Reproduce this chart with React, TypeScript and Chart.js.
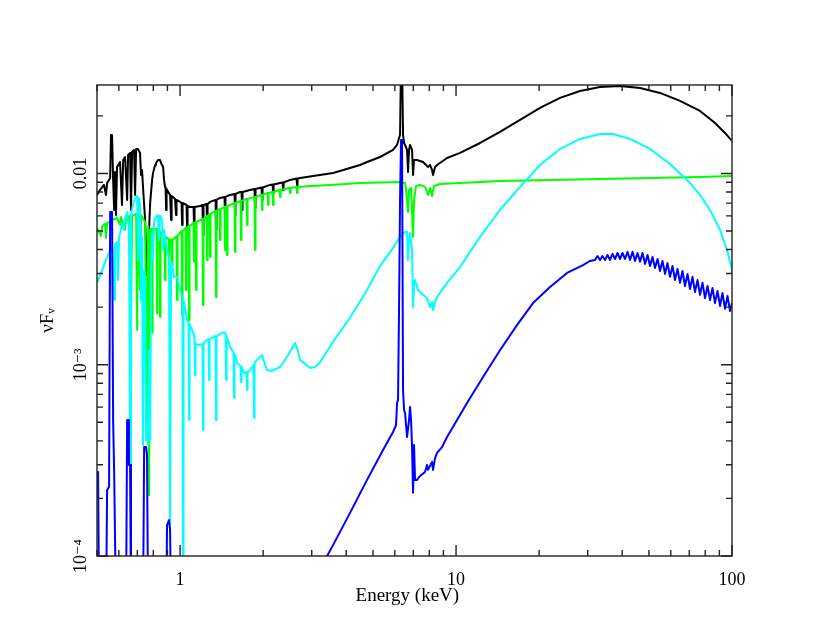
import React, { useEffect, useRef } from 'react';
import { Chart, registerables } from 'chart.js';

Chart.register(...registerables);

// ---- axis ranges and tick values ----
const X_MIN = 0.5;
const X_MAX = 100;
const Y_MIN = 1e-4;
const Y_MAX = 0.029;
const X_LABEL_TICKS = [1, 10, 100];
const Y_LABEL_TICKS = [1e-4, 1e-3, 1e-2];
const Y_LABEL_TEXT = ['10⁻⁴', '10⁻³', '0.01'];
const X_MINOR_TICKS = [0.5, 0.6, 0.7, 0.8, 0.9, 2, 3, 4, 5, 6, 7, 8, 9, 20, 30, 40, 50, 60, 70, 80, 90];
const Y_MINOR_TICKS = [2e-4, 3e-4, 4e-4, 5e-4, 6e-4, 7e-4, 8e-4, 9e-4, 2e-3, 3e-3, 4e-3, 5e-3, 6e-3, 7e-3, 8e-3, 9e-3, 2e-2];

// ---- series: [energy keV, nuFnu] ----
const totalModel: [number, number][] = [
  [0.500,0.00772],[0.513,0.00820],[0.530,0.00871],[0.539,0.00772],[0.544,0.00892],[0.558,0.00947],[0.562,0.0159],[0.567,0.0159],[0.572,0.00925],[0.577,0.00644],[0.581,0.01018],[0.586,0.00607],[0.591,0.01081],[0.606,0.01148],[0.616,0.00684],[0.622,0.01176],[0.632,0.01219],[0.643,0.00727],[0.648,0.01249],[0.659,0.0128],[0.664,0.00644],[0.670,0.01295],[0.681,0.01327],[0.687,0.00772],[0.693,0.01343],[0.704,0.01343],[0.716,0.0128],[0.722,0.00982],[0.728,0.01043],[0.734,0.0085],[0.747,0.00571],[0.759,0.00295],[0.766,0.00353],[0.772,0.00507],[0.779,0.00701],[0.792,0.00925],[0.798,0.01006],[0.812,0.01107],[0.818,0.01134],[0.832,0.01176],[0.846,0.01176],[0.853,0.01134],[0.868,0.01081],[0.875,0.00925],[0.882,0.0085],
  [0.8863,0.0084],[0.890,0.00644],[0.8937,0.0083],[0.897,0.0082],[0.920,0.00772],
  [0.9241,0.00772],[0.928,0.00571],[0.9319,0.00763],[0.959,0.00736],
  [0.963,0.00736],[0.967,0.00607],[0.971,0.00727],[1.000,0.0071],
  [1.0127,0.00701],[1.017,0.00538],[1.0213,0.00701],
  [1.0556,0.00684],[1.060,0.00519],[1.0644,0.00676],[1.087,0.00668],
  [1.1193,0.00668],[1.124,0.00519],[1.1287,0.00668],[1.181,0.00676],
  [1.206,0.00684],[1.211,0.00477],[1.216,0.00684],
  [1.2478,0.00692],[1.253,0.00538],[1.2582,0.00692],[1.284,0.0071],
  [1.3444,0.00727],[1.350,0.00507],[1.3556,0.00727],[1.396,0.00745],
  [1.4489,0.00754],[1.455,0.00607],[1.4611,0.00754],[1.518,0.00772],
  [1.5754,0.00781],[1.582,0.00607],[1.5886,0.00781],[1.650,0.008],
  [1.670,0.008],[1.677,0.00644],[1.684,0.008],[1.793,0.0082],
  [1.8612,0.0083],[1.869,0.0066],[1.8768,0.0083],
  [1.9737,0.00845],[1.982,0.00727],[1.9903,0.00845],[2.119,0.00871],
  [2.1639,0.00876],[2.173,0.00791],[2.1821,0.00876],[2.303,0.00892],
  [2.352,0.00897],[2.362,0.0082],[2.372,0.00897],[2.503,0.00925],
  [2.643,0.00942],[2.654,0.00871],[2.665,0.00942],[2.721,0.00947],
  [3.584,0.01006],[4.129,0.01068],[4.488,0.01107],[4.760,0.01148],[5.303,0.01219],[5.912,0.01327],[6.113,0.01409],[6.216,0.01533],[6.268,0.0159],[6.320,0.0393],[6.373,0.0393],[6.427,0.0159],[6.480,0.01443],[6.535,0.01409],[6.645,0.01327],[6.700,0.01018],[6.756,0.01327],[6.813,0.01409],[6.928,0.01327],[6.986,0.00982],[7.044,0.01176],[7.223,0.01176],[7.593,0.01148],[7.917,0.01081],[8.051,0.01107],[8.186,0.01043],[8.255,0.00982],[8.393,0.01081],[8.535,0.01107],[9.278,0.01205],[10.34,0.0128],[12.22,0.01443],[14.43,0.01648],[17.06,0.01904],[20.15,0.022],[23.82,0.02482],[28.13,0.027],[33.24,0.02833],[39.28,0.02868],[46.42,0.028],[54.84,0.02636],[64.80,0.02394],[76.58,0.02122],[86.79,0.01837],[94.33,0.01628],[100,0.01479]
];

const greenComponent: [number, number][] = [
  [0.500,0.00519],[0.517,0.00471],[0.522,0.00531],[0.535,0.00545],[0.539,0.0046],[0.544,0.00551],[0.558,0.00558],[0.577,0.00578],[0.591,0.00585],[0.606,0.00538],[0.611,0.00592],[0.632,0.00507],[0.637,0.00578],[0.659,0.006],[0.664,0.00171],[0.670,0.006],[0.693,0.00614],[0.699,0.00152],[0.704,0.00614],[0.716,0.00246],[0.722,0.00607],[0.747,0.00558],[0.759,0.000404],[0.766,0.00531],[0.772,0.000208],[0.779,0.00507],
  [0.789,0.00513],[0.792,0.00147],[0.795,0.00513],
  [0.822,0.00513],[0.825,0.00186],[0.828,0.00513],
  [0.8425,0.00494],[0.846,0.00178],[0.8495,0.00494],
  [0.8783,0.00466],[0.882,0.00277],[0.8857,0.00466],
  [0.9082,0.00454],[0.912,0.00302],[0.9158,0.00454],
  [0.9311,0.00449],[0.935,0.00332],[0.9389,0.00449],
  [0.9709,0.00471],[0.975,0.00218],[0.9791,0.00471],
  [1.0127,0.005],[1.017,0.00182],[1.0213,0.005],
  [1.0466,0.00519],[1.051,0.00246],[1.0554,0.00519],
  [1.0735,0.00531],[1.078,0.00171],[1.0825,0.00531],
  [1.1193,0.00551],[1.124,0.00345],[1.1287,0.00551],
  [1.1382,0.00558],[1.143,0.00246],[1.1478,0.00558],
  [1.206,0.00578],[1.211,0.00205],[1.216,0.00578],
  [1.2478,0.006],[1.253,0.00353],[1.2582,0.006],
  [1.2786,0.00614],[1.284,0.00366],[1.2894,0.00614],
  [1.3444,0.00637],[1.350,0.00226],[1.3556,0.00637],
  [1.3902,0.00652],[1.396,0.00449],[1.4018,0.00652],
  [1.4489,0.00668],[1.455,0.00398],[1.4611,0.00668],
  [1.4738,0.00676],[1.480,0.00375],[1.4862,0.00676],
  [1.5754,0.00701],[1.582,0.00389],[1.5886,0.00701],
  [1.656,0.00718],[1.663,0.00449],[1.670,0.00718],
  [1.7417,0.00736],[1.749,0.00538],[1.7563,0.00736],
  [1.8612,0.00754],[1.869,0.00398],[1.8768,0.00754],
  [1.9737,0.00772],[1.982,0.00644],[1.9903,0.00772],
  [2.0753,0.00791],[2.084,0.00684],[2.0927,0.00791],
  [2.1639,0.008],[2.173,0.00684],[2.1821,0.008],
  [2.2934,0.0082],[2.303,0.00754],[2.3126,0.0082],
  [2.4925,0.0084],[2.503,0.00791],[2.5135,0.0084],
  [2.6429,0.0085],[2.654,0.00791],[2.6651,0.0085],
  [2.983,0.0086],[3.495,0.00871],[4.488,0.00892],[6.268,0.00903],[6.535,0.00892],[6.590,0.0082],[6.700,0.00629],[6.756,0.0082],[6.871,0.0084],[6.986,0.00466],[7.044,0.00727],[7.163,0.0086],[7.406,0.00871],[7.721,0.0085],[7.917,0.00772],[8.051,0.0084],[8.186,0.00763],[8.323,0.0086],[8.750,0.00881],[10.34,0.00892],[14.43,0.00914],[21.91,0.00925],[33.24,0.00936],[50.46,0.00947],[76.58,0.00959],[100,0.0097]
];

const cyanComponent: [number, number][] = [
  [0.500,0.00268],[0.513,0.00295],[0.526,0.0032],[0.535,0.00345],[0.544,0.00362],[0.558,0.00398],[0.567,0.00418],[0.577,0.00218],[0.581,0.00423],[0.591,0.00438],[0.596,0.00277],[0.601,0.0046],[0.616,0.00538],[0.627,0.00507],[0.632,0.00585],[0.643,0.00629],[0.653,0.00507],[0.659,0.000299],[0.664,0.00607],[0.675,0.00684],[0.687,0.00745],[0.699,0.00763],[0.704,0.00353],[0.710,0.00745],[0.716,0.00684],[0.722,0.00218],[0.728,0.00466],[0.734,0.000381],[0.741,0.00313],[0.747,0.00255],[0.753,0.000404],[0.759,0.000514],[0.766,0.000381],[0.772,0.00119],[0.779,0.000404],[0.785,0.00277],[0.792,0.00494],[0.798,0.00353],[0.805,0.00558],[0.812,0.00585],[0.832,0.00607],[0.839,0.00449],[0.846,0.006],[0.861,0.00571],[0.868,0.00398],[0.875,0.00507],[0.882,0.00466],[0.897,0.00398],[0.912,0.00362],[0.920,0.000137],[0.928,0.00345],[0.943,0.00313],[0.951,0.00288],[0.975,0.00288],[1.000,0.00246],[1.017,0.00223],
  [1.0207,0.00221],[1.025,0.00005],[1.0293,0.00215],[1.034,0.00213],[1.060,0.00171],
  [1.0735,0.00165],[1.078,0.000514],[1.0825,0.00163],[1.087,0.00161],[1.105,0.00152],[1.124,0.00143],
  [1.1283,0.00135],[1.133,0.000884],[1.1377,0.0013],[1.143,0.00127],[1.181,0.00127],
  [1.206,0.00128],[1.211,0.000456],[1.216,0.00128],[1.222,0.0013],[1.253,0.00135],
  [1.2687,0.00136],[1.274,0.000832],[1.2793,0.00136],[1.284,0.00136],[1.328,0.0014],
  [1.3444,0.00141],[1.350,0.000514],[1.3556,0.00141],[1.362,0.00141],[1.396,0.00145],[1.444,0.00148],
  [1.4619,0.00145],[1.468,0.000832],[1.4741,0.00141],[1.480,0.00138],[1.518,0.00124],
  [1.5624,0.00115],[1.569,0.00067],[1.5756,0.00114],[1.582,0.00112],[1.609,0.00102],
  [1.656,0.000985],[1.663,0.000812],[1.670,0.000973],[1.677,0.000962],[1.706,0.000905],
  [1.7417,0.000916],[1.749,0.000738],[1.7563,0.000916],[1.764,0.000916],[1.793,0.000939],
  [1.8463,0.000997],[1.854,0.000527],[1.8617,0.00102],[1.869,0.00103],
  [1.901,0.00106],[1.982,0.00112],[2.032,0.000997],[2.067,0.000939],[2.154,0.000928],[2.303,0.000973],[2.442,0.0011],[2.545,0.00122],[2.610,0.0013],[2.676,0.00117],[2.721,0.00106],[2.837,0.00101],[2.958,0.000962],[3.084,0.000973],[3.215,0.00103],[3.584,0.00132],[4.129,0.00176],[4.760,0.00246],[5.303,0.00328],[5.912,0.00408],[6.268,0.00466],[6.535,0.00494],[6.645,0.00494],[6.700,0.00353],[6.756,0.00449],[6.813,0.00488],[6.928,0.00398],[6.986,0.002],[7.044,0.00261],[7.103,0.00277],[7.283,0.00246],[7.593,0.00232],[7.850,0.00223],[8.051,0.002],[8.186,0.00213],[8.255,0.00193],[8.393,0.00213],[8.535,0.00226],[9.278,0.00268],[10.34,0.00324],[12.22,0.00466],[14.43,0.00644],[17.06,0.0085],[20.15,0.01107],[23.82,0.01343],[28.13,0.01515],[33.24,0.01609],[37.06,0.01609],[42.70,0.01515],[50.46,0.01343],[59.62,0.01121],[70.44,0.00892],[76.58,0.00772],[83.24,0.00644],[90.49,0.00507],[95.92,0.00398],[100,0.00313]
];

const blueComponent: [number, number][] = [
  [0.500,0.000275],[0.5045,0.000275],[0.509,0.00005],[0.539,0.00005],[0.544,0.000221],[0.553,0.00023],[0.558,0.00629],[0.567,0.00629],[0.572,0.000514],[0.577,0.000275],[0.581,0.000275],[0.586,0.00005],[0.637,0.00005],[0.643,0.000514],[0.648,0.000514],[0.653,0.000299],[0.659,0.000299],[0.664,0.00005],[0.734,0.00005],[0.741,0.000371],[0.753,0.000371],[0.759,0.000337],[0.766,0.00005],[0.890,0.00005],[0.897,0.000145],[0.912,0.000154],[0.920,0.000137],[0.928,0.00005],
  [3.215,0.0000855],[3.409,0.0001],[3.584,0.000114],[4.129,0.000168],[4.760,0.00025],[5.438,0.000358],[5.912,0.000445],[6.062,0.000484],[6.113,0.000631],[6.164,0.000654],[6.216,0.002],[6.268,0.00727],[6.320,0.01496],[6.373,0.01496],[6.427,0.000738],[6.480,0.00058],[6.535,0.000559],[6.645,0.000419],[6.756,0.000514],[6.813,0.000601],[6.871,0.000514],[6.928,0.000371],[6.986,0.000214],[7.044,0.000381],[7.103,0.00025],[7.223,0.00025],[7.406,0.000262],[7.721,0.000275],[7.850,0.000299],[7.917,0.000282],[8.186,0.00031],[8.255,0.000282],[8.393,0.000325],[8.535,0.000346],[8.898,0.000371],[9.278,0.000419],[10.96,0.000631],[12.53,0.000863],[14.43,0.00119],[16.63,0.00161],[19.01,0.0021],[21.91,0.00255],[25.25,0.00302],[28.85,0.00332],[30.58,0.00349],
  [31.88,0.00353],[32.56,0.0037],[33.24,0.00353],[33.94,0.0037],[34.66,0.00353],[35.39,0.00375],[36.14,0.00353],[36.90,0.0038],[37.68,0.00357],[38.47,0.00384],[39.28,0.00357],[40.12,0.00384],[40.96,0.00357],[41.83,0.00389],[42.70,0.00353],[43.61,0.00389],[44.53,0.00349],[45.46,0.00384],[46.42,0.00345],[47.40,0.00384],[48.40,0.00336],[49.42,0.00375],[50.46,0.00328],[51.52,0.00366],[52.60,0.0032],[53.72,0.00357],[54.84,0.00309],[56.00,0.00349],[57.18,0.00298],[58.38,0.0034],[59.62,0.00288],[60.87,0.00328],[62.15,0.00277],[63.46,0.00317],[64.80,0.00268],[66.17,0.00309],[67.56,0.00258],[68.99,0.00298],[70.44,0.00249],[71.93,0.00288],[73.44,0.0024],[74.99,0.00277],[76.58,0.00232],[78.19,0.00268],[79.84,0.00223],[81.52,0.00258],[83.24,0.00218],[84.99,0.00252],[86.79,0.0021],[88.62,0.00243],[90.49,0.00203],[92.39,0.00237],[94.33,0.00196],[96.32,0.00229],[98.35,0.00191],[100,0.0021]
];

const SERIF = "'Liberation Serif', 'DejaVu Serif', serif";

const frameTicks = {
  id: 'frameTicks',
  afterDraw(chart: any) {
    const { ctx, chartArea: a, scales } = chart;
    const xs = scales.x;
    const ys = scales.y;
    ctx.save();
    ctx.strokeStyle = '#222';
    ctx.lineWidth = 1.4;
    ctx.strokeRect(a.left, a.top, a.right - a.left, a.bottom - a.top);
    ctx.beginPath();
    const xTick = (v: number, len: number) => {
      const p = xs.getPixelForValue(v);
      ctx.moveTo(p, a.bottom); ctx.lineTo(p, a.bottom - len);
      ctx.moveTo(p, a.top); ctx.lineTo(p, a.top + len);
    };
    const yTick = (v: number, len: number) => {
      const p = ys.getPixelForValue(v);
      if (p < a.top - 0.5 || p > a.bottom + 0.5) return;
      ctx.moveTo(a.left, p); ctx.lineTo(a.left + len, p);
      ctx.moveTo(a.right, p); ctx.lineTo(a.right - len, p);
    };
    X_MINOR_TICKS.forEach((v) => xTick(v, 6));
    X_LABEL_TICKS.forEach((v) => xTick(v, 11));
    Y_MINOR_TICKS.forEach((v) => yTick(v, 6));
    Y_LABEL_TICKS.forEach((v) => yTick(v, 11));
    ctx.stroke();
    ctx.restore();
  },
};

const toPoints = (arr: [number, number][]) => arr.map(([x, y]) => ({ x, y }));

export default function App() {
  const ref = useRef<HTMLCanvasElement>(null);
  useEffect(() => {
    const canvas = ref.current;
    if (!canvas) return;
    const mk = (data: [number, number][], color: string) => ({
      data: toPoints(data),
      borderColor: color,
      backgroundColor: color,
      borderWidth: 2,
      pointRadius: 0,
      tension: 0,
      fill: false,
      borderJoinStyle: 'round' as const,
    });
    const chart = new Chart(canvas, {
      type: 'line',
      data: {
        datasets: [
          mk(blueComponent, '#0000ff'),
          mk(cyanComponent, '#00ffff'),
          mk(greenComponent, '#00ff00'),
          mk(totalModel, '#000000'),
        ],
      },
      options: {
        responsive: false,
        animation: false,
        devicePixelRatio: 1,
        events: [],
        layout: { padding: { left: 0, right: 98, top: 85, bottom: 0 } },
        plugins: { legend: { display: false }, tooltip: { enabled: false } },
        scales: {
          x: {
            type: 'logarithmic',
            position: 'bottom',
            min: X_MIN,
            max: X_MAX,
            grid: { display: false },
            border: { display: false },
            afterBuildTicks: (s: any) => { s.ticks = X_LABEL_TICKS.map((v) => ({ value: v })); },
            afterFit: (s: any) => { s.height = 86; },
            ticks: {
              autoSkip: false,
              minRotation: 0,
              maxRotation: 0,
              padding: 5,
              color: '#000',
              font: { family: SERIF, size: 18 },
              callback: (v: any) => String(v),
            },
            title: {
              display: true,
              text: 'Energy (keV)\u00a0\u00a0\u00a0',
              color: '#000',
              font: { family: SERIF, size: 19 },
              padding: { top: 0, bottom: 35 },
            },
          },
          y: {
            type: 'logarithmic',
            position: 'left',
            min: Y_MIN,
            max: Y_MAX,
            grid: { display: false },
            border: { display: false },
            afterBuildTicks: (s: any) => { s.ticks = Y_LABEL_TICKS.map((v) => ({ value: v })); },
            afterFit: (s: any) => { s.width = 97; },
            ticks: {
              autoSkip: false,
              minRotation: 90,
              maxRotation: 90,
              crossAlign: 'center',
              padding: -9,
              color: '#000',
              font: { family: SERIF, size: 18 },
              callback: (v: any) => {
                const i = Y_LABEL_TICKS.findIndex((t) => Math.abs(t - v) / t < 1e-6);
                return i >= 0 ? Y_LABEL_TEXT[i] : '';
              },
            },
            title: {
              display: true,
              text: 'νFᵥ',
              color: '#000',
              font: { family: SERIF, size: 19 },
              padding: { top: 37, bottom: 0 },
            },
          },
        },
      },
      plugins: [frameTicks],
    } as any);
    return () => chart.destroy();
  }, []);
  return (
    <div style={{ position: 'fixed', left: 0, top: 0, width: 830, height: 642, background: '#fff' }}>
      <canvas ref={ref} width={830} height={642} style={{ display: 'block' }} />
    </div>
  );
}
